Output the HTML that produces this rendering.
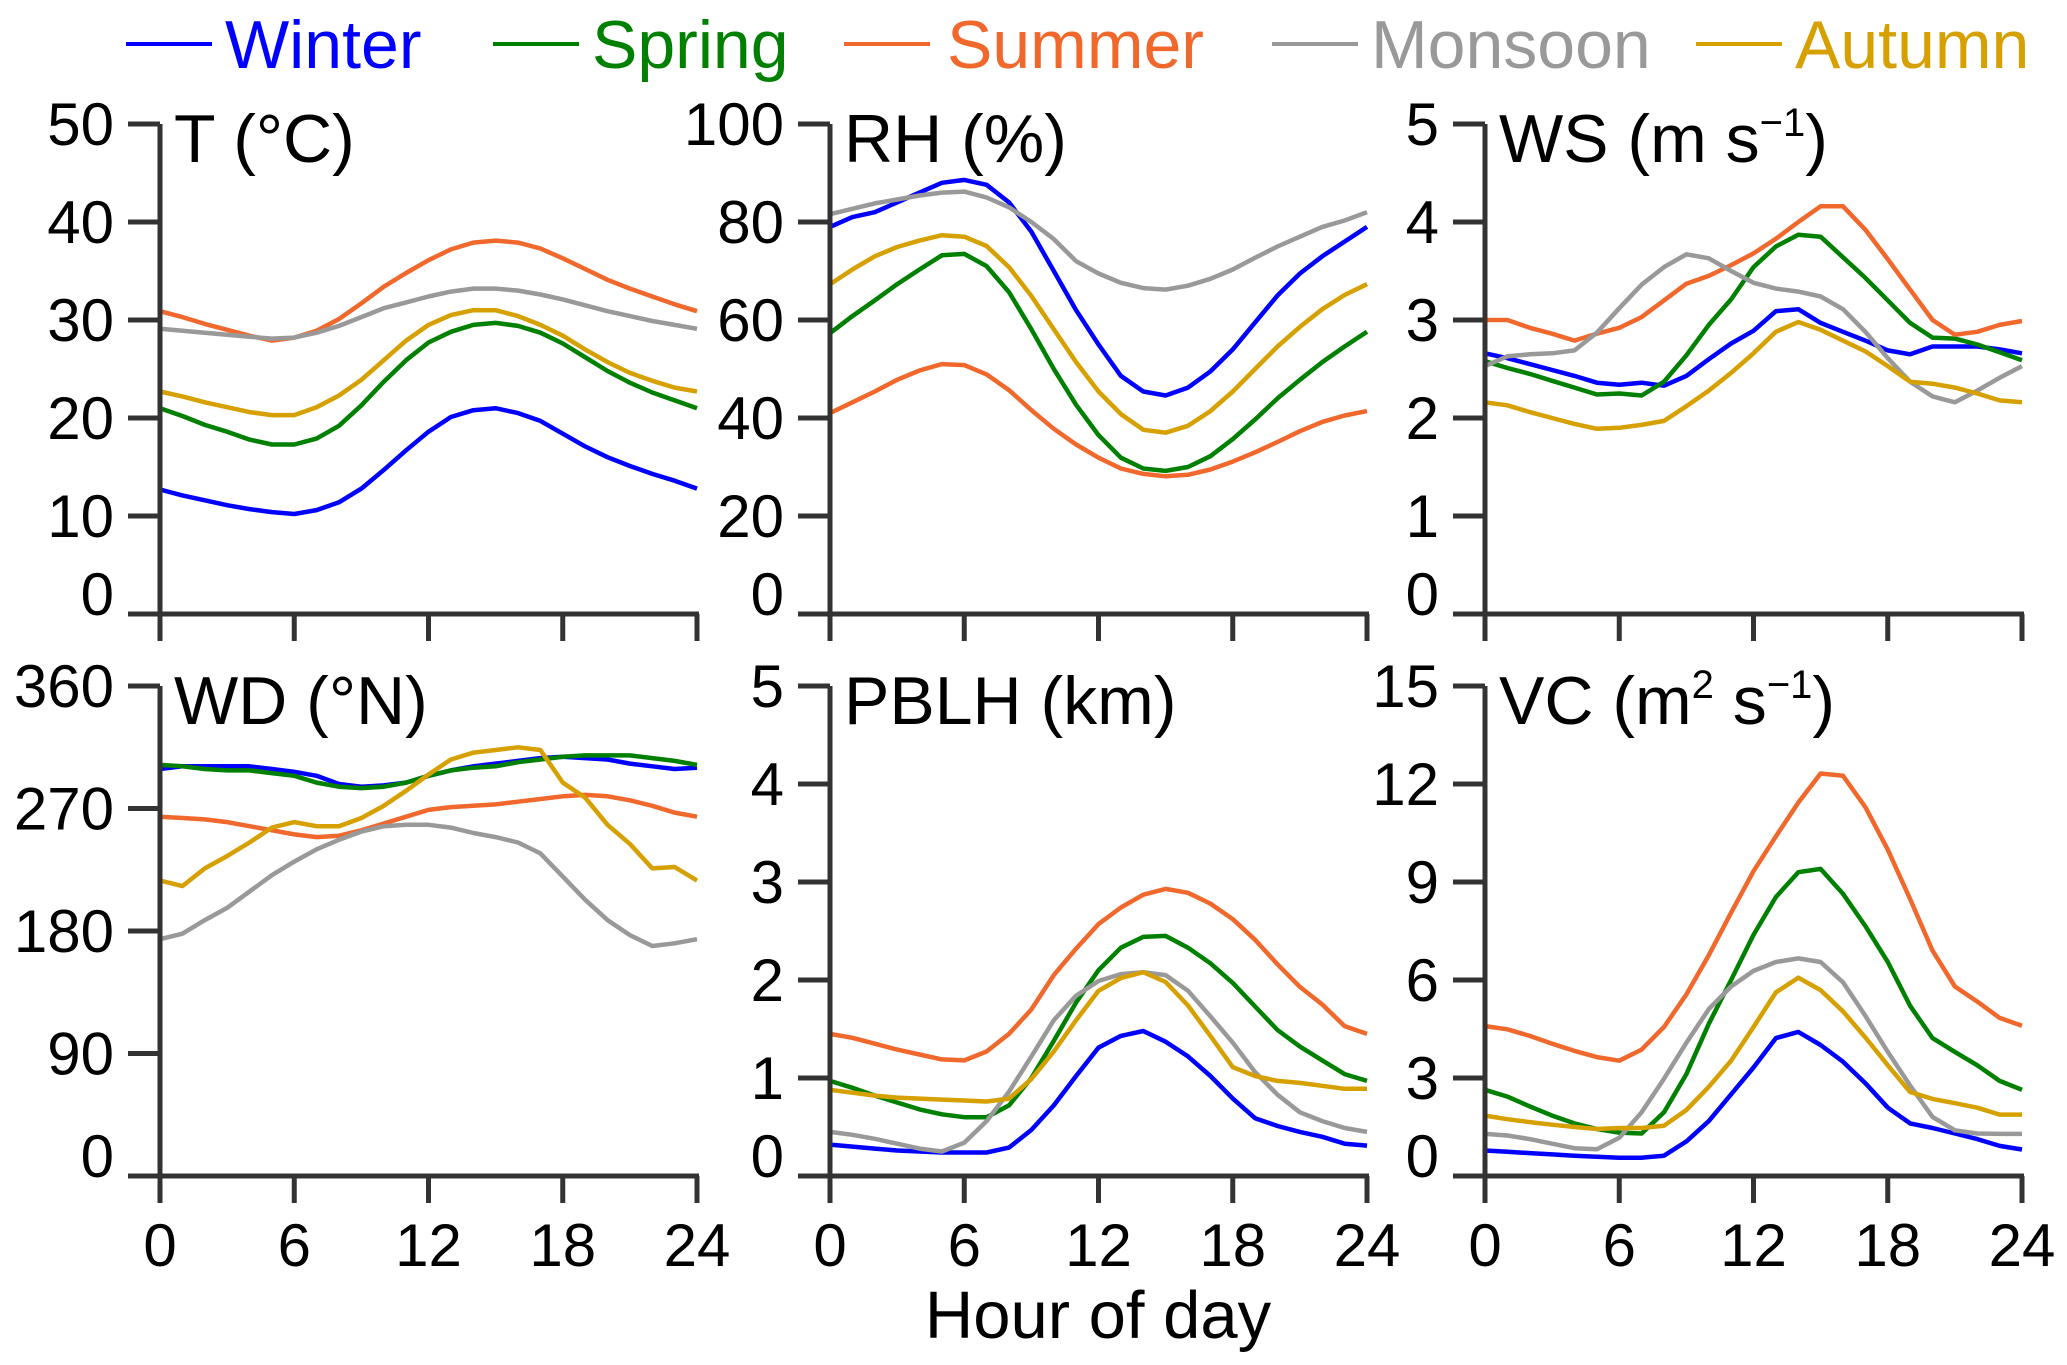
<!DOCTYPE html>
<html><head><meta charset="utf-8"><style>
html,body{margin:0;padding:0;background:#fff}
svg{display:block;font-family:"Liberation Sans",Arial,sans-serif}
</style></head><body>
<svg id="chart" width="2067" height="1365" viewBox="0 0 2067 1365" xmlns="http://www.w3.org/2000/svg">
<rect width="2067" height="1365" fill="#fff"/>
<g id="legend" font-size="68">
 <g><line x1="126" y1="44" x2="212" y2="44" stroke="#0000ff" stroke-width="4"/><text x="225" y="68" fill="#0000ff">Winter</text></g>
 <g><line x1="493" y1="44" x2="579" y2="44" stroke="#008000" stroke-width="4"/><text x="592" y="68" fill="#008000">Spring</text></g>
 <g><line x1="844" y1="44" x2="930" y2="44" stroke="#f0682c" stroke-width="4"/><text x="947" y="68" fill="#f0682c">Summer</text></g>
 <g><line x1="1272" y1="44" x2="1358" y2="44" stroke="#999999" stroke-width="4"/><text x="1371" y="68" fill="#999999">Monsoon</text></g>
 <g><line x1="1696" y1="44" x2="1782" y2="44" stroke="#d6a000" stroke-width="4"/><text x="1795" y="68" fill="#d6a000">Autumn</text></g>
</g>
<text x="1098" y="1338" font-size="67" text-anchor="middle" fill="#000">Hour of day</text>
<g id="panels"></g>
</svg>
<script>
const hours = [0,1,2,3,4,5,6,7,8,9,10,11,12,13,14,15,16,17,18,19,20,21,22,23,24];
const xTicks = [0,6,12,18,24];
const seasons = ["Winter","Spring","Summer","Monsoon","Autumn"];
const seasonColors = ["#0000ff","#008000","#f0682c","#999999","#d6a000"];

const tTicks = [0,10,20,30,40,50];
const tWinter = [12.7,12.1,11.6,11.1,10.7,10.4,10.2,10.6,11.4,12.8,14.7,16.7,18.6,20.1,20.8,21.0,20.5,19.7,18.4,17.1,16.0,15.1,14.3,13.6,12.8];
const tSpring = [21.0,20.2,19.3,18.6,17.8,17.3,17.3,17.9,19.2,21.3,23.7,25.9,27.7,28.8,29.5,29.7,29.4,28.7,27.6,26.2,24.8,23.6,22.6,21.8,21.0];
const tSummer = [30.9,30.3,29.6,29.0,28.4,27.9,28.2,28.9,30.1,31.7,33.4,34.8,36.1,37.2,37.9,38.1,37.9,37.3,36.3,35.2,34.1,33.2,32.4,31.6,30.9];
const tMonsoon = [29.1,28.9,28.7,28.5,28.3,28.1,28.2,28.7,29.4,30.3,31.2,31.8,32.4,32.9,33.2,33.2,33.0,32.6,32.1,31.5,30.9,30.4,29.9,29.5,29.1];
const tAutumn = [22.7,22.2,21.6,21.1,20.6,20.3,20.3,21.1,22.3,23.9,25.9,27.9,29.5,30.5,31.0,31.0,30.4,29.5,28.4,27.0,25.7,24.6,23.8,23.1,22.7];

const rhTicks = [0,20,40,60,80,100];
const rhWinter = [79,81,82,84,86,88,88.6,87.6,84,78,70,62,55,48.6,45.4,44.6,46.2,49.5,54,59.5,65,69.5,73,76,79];
const rhSpring = [57.3,60.8,64,67.3,70.3,73.2,73.5,71,65.7,58.1,50,42.7,36.5,31.9,29.7,29.2,30,32.2,35.7,39.7,44,47.8,51.4,54.6,57.6];
const rhSummer = [41,43.2,45.4,47.8,49.7,51,50.8,48.9,45.7,41.6,37.8,34.6,31.9,29.7,28.6,28.1,28.4,29.5,31.1,33,35.1,37.3,39.2,40.5,41.4];
const rhMonsoon = [81.6,82.7,83.8,84.6,85.4,86,86.2,85,83,80,76.5,72,69.5,67.6,66.5,66.2,67,68.4,70.3,72.7,75,77,79,80.3,82];
const rhAutumn = [67.3,70.3,73,74.9,76.2,77.3,77,75.1,70.8,64.9,58.1,51.4,45.4,40.8,37.6,37,38.4,41.4,45.4,50,54.6,58.6,62.2,65.1,67.3];

const wsTicks = [0,1,2,3,4,5];
const wsWinter = [2.66,2.61,2.55,2.49,2.43,2.36,2.34,2.36,2.33,2.43,2.6,2.76,2.89,3.09,3.11,2.97,2.88,2.79,2.69,2.65,2.73,2.73,2.73,2.7,2.66];
const wsSpring = [2.58,2.51,2.45,2.38,2.31,2.24,2.25,2.23,2.37,2.64,2.95,3.21,3.54,3.75,3.87,3.85,3.64,3.43,3.2,2.97,2.82,2.81,2.75,2.67,2.59];
const wsSummer = [3.0,3.0,2.92,2.86,2.79,2.86,2.92,3.03,3.2,3.37,3.45,3.56,3.68,3.83,4.0,4.16,4.16,3.92,3.62,3.31,3.0,2.85,2.88,2.95,2.99];
const wsMonsoon = [2.53,2.63,2.65,2.66,2.69,2.87,3.12,3.36,3.54,3.67,3.63,3.5,3.38,3.32,3.29,3.24,3.11,2.88,2.61,2.37,2.22,2.16,2.28,2.41,2.53];
const wsAutumn = [2.16,2.13,2.06,2.0,1.94,1.89,1.9,1.93,1.97,2.12,2.28,2.46,2.66,2.88,2.98,2.9,2.79,2.68,2.53,2.37,2.35,2.31,2.25,2.18,2.16];

const wdTicks = [0,90,180,270,360];
const wdWinter = [299,301,301,301,301,299,297,294,288,286,287,289,294,298,301,303,305,307,308,307,306,303,301,299,300];
const wdSpring = [302,301,299,298,298,296,294,289,286,285,286,289,294,298,300,301,304,306,308,309,309,309,307,305,302];
const wdSummer = [264,263,262,260,257,254,251,249,250,254,259,264,269,271,272,273,275,277,279,280,279,276,272,267,264];
const wdMonsoon = [174,178,188,197,209,221,231,240,247,253,257,258,258,256,252,249,245,237,220,203,188,177,169,171,174];
const wdAutumn = [217,213,226,235,245,256,260,257,257,263,272,283,295,306,311,313,315,313,289,278,258,244,226,227,217];

const pbTicks = [0,1,2,3,4,5];
const pbWinter = [0.32,0.3,0.28,0.26,0.25,0.24,0.24,0.24,0.29,0.47,0.72,1.02,1.31,1.43,1.48,1.37,1.22,1.02,0.79,0.59,0.51,0.45,0.4,0.33,0.31];
const pbSpring = [0.97,0.9,0.82,0.75,0.68,0.63,0.6,0.6,0.72,1.0,1.38,1.77,2.1,2.33,2.44,2.45,2.33,2.17,1.97,1.73,1.49,1.32,1.18,1.04,0.97];
const pbSummer = [1.45,1.41,1.35,1.29,1.24,1.19,1.18,1.27,1.45,1.7,2.05,2.32,2.57,2.74,2.87,2.93,2.89,2.78,2.62,2.41,2.16,1.93,1.75,1.53,1.45];
const pbMonsoon = [0.45,0.42,0.38,0.33,0.28,0.25,0.34,0.56,0.86,1.22,1.59,1.84,1.99,2.06,2.08,2.05,1.89,1.63,1.36,1.06,0.83,0.65,0.56,0.49,0.45];
const pbAutumn = [0.88,0.85,0.82,0.8,0.79,0.78,0.77,0.76,0.79,0.99,1.27,1.59,1.89,2.02,2.08,1.98,1.74,1.43,1.11,1.02,0.97,0.95,0.92,0.89,0.89];

const vcTicks = [0,3,6,9,12,15];
const vcWinter = [0.78,0.74,0.7,0.66,0.62,0.59,0.56,0.56,0.62,1.06,1.68,2.5,3.32,4.22,4.41,4.01,3.5,2.84,2.09,1.61,1.47,1.3,1.13,0.92,0.81];
const vcSpring = [2.64,2.43,2.13,1.85,1.61,1.44,1.33,1.3,1.95,3.12,4.66,6.0,7.38,8.54,9.3,9.4,8.64,7.65,6.55,5.21,4.22,3.8,3.39,2.91,2.64];
const vcSummer = [4.59,4.49,4.29,4.05,3.83,3.64,3.53,3.87,4.56,5.56,6.76,8.06,9.33,10.4,11.43,12.32,12.25,11.29,9.99,8.48,6.9,5.8,5.34,4.84,4.6];
const vcMonsoon = [1.29,1.24,1.13,0.99,0.85,0.82,1.17,1.95,2.98,4.08,5.11,5.8,6.28,6.55,6.66,6.55,5.93,4.9,3.8,2.77,1.81,1.4,1.3,1.29,1.29];
const vcAutumn = [1.85,1.74,1.65,1.57,1.5,1.44,1.47,1.47,1.54,2.02,2.73,3.53,4.56,5.62,6.07,5.69,5.04,4.24,3.39,2.57,2.36,2.23,2.09,1.88,1.88];

const NS = "http://www.w3.org/2000/svg";
const panelsG = document.getElementById("panels");
function mk(tag, attrs, parent){const e=document.createElementNS(NS,tag);for(const k in attrs)e.setAttribute(k,attrs[k]);parent.appendChild(e);return e;}

const panels = [
 {key:"t", title:["T (°C)"], x0:160, y0:124, ticks:tTicks, series:[tWinter,tSpring,tSummer,tMonsoon,tAutumn], xlab:false},
 {key:"rh", title:["RH (%)"], x0:830, y0:124, ticks:rhTicks, series:[rhWinter,rhSpring,rhSummer,rhMonsoon,rhAutumn], xlab:false},
 {key:"ws", title:["WS (m s","−1",")"], x0:1485, y0:124, ticks:wsTicks, series:[wsWinter,wsSpring,wsSummer,wsMonsoon,wsAutumn], xlab:false},
 {key:"wd", title:["WD (°N)"], x0:160, y0:686, ticks:wdTicks, series:[wdWinter,wdSpring,wdSummer,wdMonsoon,wdAutumn], xlab:true},
 {key:"pblh", title:["PBLH (km)"], x0:830, y0:686, ticks:pbTicks, series:[pbWinter,pbSpring,pbSummer,pbMonsoon,pbAutumn], xlab:true},
 {key:"vc", title:["VC (m","2"," s","−1",")"], x0:1485, y0:686, ticks:vcTicks, series:[vcWinter,vcSpring,vcSummer,vcMonsoon,vcAutumn], xlab:true}
];
const W = 537, H = 490;

panels.forEach(p => {
  const g = mk("g", {}, panelsG);
  
  
  const ymin = p.ticks[0], ymax = p.ticks[p.ticks.length-1];
  const xs = h => p.x0 + h / 24 * W;
  const ys = v => p.y0 + H - (v - ymin) / (ymax - ymin) * H;
  const yb = p.y0 + H;
  p.series.forEach((s, i) => {
    const d = s.map((v, j) => (j ? "L" : "M") + xs(hours[j]).toFixed(1) + "," + ys(v).toFixed(1)).join("");
    const path = mk("path", {d:d, fill:"none", stroke:seasonColors[i], "stroke-width":4.5, "stroke-linejoin":"round"}, g);
    
    
  });
  const yaxis = mk("line", {x1:p.x0, y1:p.y0, x2:p.x0, y2:yb+27, stroke:"#333", "stroke-width":5}, g);
  
  
  const xaxis = mk("line", {x1:p.x0-32, y1:yb, x2:p.x0+W+2, y2:yb, stroke:"#333", "stroke-width":5}, g);
  
  
  p.ticks.forEach((t, k) => {
    const y = ys(t);
    if (k > 0) mk("line", {x1:p.x0-32, y1:y, x2:p.x0, y2:y, stroke:"#333", "stroke-width":5}, g);
    const lab = mk("text", {x:p.x0-46, y:(k===0 ? yb+1 : y+21), "text-anchor":"end", "font-size":60, fill:"#000"}, g);
    lab.textContent = t;
    
    
  });
  xTicks.forEach(h => {
    const x = xs(h);
    mk("line", {x1:x, y1:yb, x2:x, y2:yb+27, stroke:"#333", "stroke-width":5}, g);
    if (p.xlab) {
      const lab = mk("text", {x:x, y:1266, "text-anchor":"middle", "font-size":60, fill:"#000"}, g);
      lab.textContent = h;
      
      
    }
  });
  const tt = mk("text", {x:p.x0+14, y:p.y0+38, "font-size":68, fill:"#000"}, g);
  
  
  p.title.forEach((part, idx) => {
    const ts = mk("tspan", {}, tt);
    const sup = (part === "−1" || part === "2");
    if (sup) { ts.setAttribute("font-size", 40); ts.setAttribute("dy", -26); }
    else if (idx > 0 && (p.title[idx-1] === "−1" || p.title[idx-1] === "2")) { ts.setAttribute("dy", 26); }
    ts.textContent = part;
  });
});
</script>
</body></html>
